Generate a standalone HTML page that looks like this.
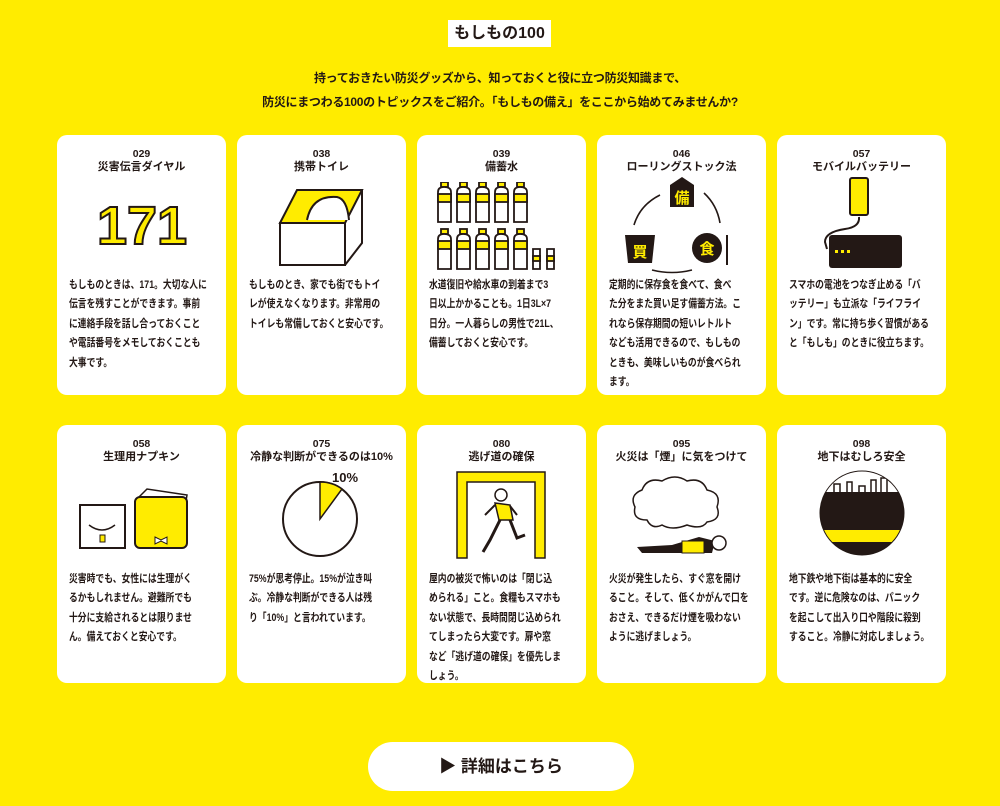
<!DOCTYPE html>
<html><head><meta charset="utf-8"><style>
*{margin:0;padding:0;box-sizing:border-box}
body{width:1000px;height:806px;background:#ffec00;font-family:"Liberation Sans","Noto Sans CJK JP",sans-serif;color:#231815;position:relative;overflow:hidden;font-weight:bold}
.title{position:absolute;left:448px;top:20px;width:103px;height:27px;background:#fff;font-size:16px;line-height:27px;text-align:center}
.lead{position:absolute;left:0;top:66px;width:1000px;text-align:center;font-size:12px;line-height:24px;letter-spacing:-0.3px}
.card{position:absolute;width:169px;background:#fff;border-radius:10px}
.num{position:absolute;top:13px;width:100%;text-align:center;font-size:10.5px;line-height:12px}
.ttl{position:absolute;top:25px;width:100%;text-align:center;font-size:11px;line-height:14px}
.body{position:absolute;left:12px;font-size:11px;line-height:19.4px;white-space:nowrap;transform:scaleX(0.8);transform-origin:0 0}
svg{position:absolute}
.btn{position:absolute;left:368px;top:742px;width:266px;height:49px;background:#fff;border-radius:25px;font-size:17px;line-height:49px;text-align:center}
</style></head><body>
<div class="title">もしもの100</div>
<div class="lead">持っておきたい防災グッズから、知っておくと役に立つ防災知識まで、<br>防災にまつわる100のトピックスをご紹介。「もしもの備え」をここから始めてみませんか?</div>

<div class="card" style="left:57px;top:135px;height:260px">
<div class="num">029</div><div class="ttl">災害伝言ダイヤル</div>
<svg style="left:40px;top:65px" width="90" height="50"><text x="45" y="44" text-anchor="middle" font-family="Liberation Sans" font-size="54" font-weight="bold" fill="#ffec00" stroke="#231815" stroke-width="2">171</text></svg>
<div class="body" style="top:141px">もしものときは、171。大切な人に<br>伝言を残すことができます。事前<br>に連絡手段を話し合っておくこと<br>や電話番号をメモしておくことも<br>大事です。</div></div>

<div class="card" style="left:237px;top:135px;height:260px">
<div class="num">038</div><div class="ttl">携帯トイレ</div>
<svg style="left:40px;top:50px" width="90" height="82"><path d="M3 38 L20 5 L85 5 L68 38Z" fill="#ffec00" stroke="#231815" stroke-width="2"/><path d="M30 35 Q35 10 60 12 Q70 14 72 35" fill="#fff" stroke="#231815" stroke-width="2"/><path d="M3 38 L68 38 L68 80 L3 80Z M68 80 L85 58 L85 5" fill="#fff" stroke="#231815" stroke-width="2"/></svg>
<div class="body" style="top:141px">もしものとき、家でも街でもトイ<br>レが使えなくなります。非常用の<br>トイレも常備しておくと安心です。</div></div>

<div class="card" style="left:417px;top:135px;height:260px">
<div class="num">039</div><div class="ttl">備蓄水</div>
<svg style="left:20px;top:47px" width="130" height="90">
<g stroke="#231815" stroke-width="1.8">
<g id="b"><rect x="4" y="0" width="7" height="5" fill="#ffec00"/><path d="M1 10 Q1 5 7 5 Q14 5 14 10 L14 40 L1 40Z" fill="#fff"/><rect x="1" y="12" width="13" height="8" fill="#ffec00"/></g>
<use href="#b" x="19"/><use href="#b" x="38"/><use href="#b" x="57"/><use href="#b" x="76"/>
<use href="#b" y="47"/><use href="#b" x="19" y="47"/><use href="#b" x="38" y="47"/><use href="#b" x="57" y="47"/><use href="#b" x="76" y="47"/>
<path d="M96 67 h7 v20 h-7z M110 67 h7 v20 h-7z" fill="#fff"/><rect x="96" y="74" width="7" height="5" fill="#ffec00"/><rect x="110" y="74" width="7" height="5" fill="#ffec00"/></g></svg>
<div class="body" style="top:141px">水道復旧や給水車の到着まで3<br>日以上かかることも。1日3L×7<br>日分。一人暮らしの男性で21L、<br>備蓄しておくと安心です。</div></div>

<div class="card" style="left:597px;top:135px;height:260px">
<div class="num">046</div><div class="ttl">ローリングストック法</div>
<svg style="left:25px;top:40px" width="125" height="105"><g fill="#231815"><path d="M48 10 L60 2 L72 10 L72 32 L48 32Z"/><path d="M3 60 L33 60 L30 88 L6 88Z"/><circle cx="85" cy="73" r="15"/><rect x="104" y="60" width="2" height="30"/></g>
<g fill="#ffec00" font-size="15" text-anchor="middle"><text x="60" y="28">備</text><text x="18" y="82">買</text><text x="85" y="79">食</text></g>
<g fill="none" stroke="#231815" stroke-width="1.6"><path d="M12 50 Q18 30 38 20"/><path d="M82 18 Q95 30 98 48"/><path d="M70 95 Q50 100 30 95"/></g></svg>
<div class="body" style="top:141px">定期的に保存食を食べて、食べ<br>た分をまた買い足す備蓄方法。こ<br>れなら保存期間の短いレトルト<br>なども活用できるので、もしもの<br>ときも、美味しいものが食べられ<br>ます。</div></div>

<div class="card" style="left:777px;top:135px;height:260px">
<div class="num">057</div><div class="ttl">モバイルバッテリー</div>
<svg style="left:38px;top:42px" width="100" height="95"><rect x="35" y="1" width="18" height="37" rx="2" fill="#ffec00" stroke="#231815" stroke-width="2"/><path d="M44 40 Q45 50 30 52 Q10 55 10 65 L12 72" fill="none" stroke="#231815" stroke-width="2"/><rect x="14" y="58" width="73" height="33" rx="3" fill="#231815"/><g fill="#ffec00"><rect x="20" y="73" width="3" height="3"/><rect x="26" y="73" width="3" height="3"/><rect x="32" y="73" width="3" height="3"/></g></svg>
<div class="body" style="top:141px">スマホの電池をつなぎ止める「バ<br>ッテリー」も立派な「ライフライ<br>ン」です。常に持ち歩く習慣がある<br>と「もしも」のときに役立ちます。</div></div>

<div class="card" style="left:57px;top:425px;height:258px">
<div class="num">058</div><div class="ttl">生理用ナプキン</div>
<svg style="left:20px;top:62px" width="130" height="65"><rect x="3" y="18" width="45" height="43" fill="#fff" stroke="#231815" stroke-width="2"/><path d="M12 38 Q25 48 38 38" fill="none" stroke="#231815" stroke-width="1.5"/><rect x="23" y="48" width="5" height="7" fill="#ffec00" stroke="#231815"/><path d="M62 10 L70 2 L110 8 L108 20Z" fill="#fff" stroke="#231815" stroke-width="1.5"/><rect x="58" y="10" width="52" height="51" rx="5" fill="#ffec00" stroke="#231815" stroke-width="2"/><path d="M78 50 l6 3 l6-3 v7 l-6-3 l-6 3z" fill="#fff" stroke="#231815"/></svg>
<div class="body" style="top:145px">災害時でも、女性には生理がく<br>るかもしれません。避難所でも<br>十分に支給されるとは限りませ<br>ん。備えておくと安心です。</div></div>

<div class="card" style="left:237px;top:425px;height:258px">
<div class="num">075</div><div class="ttl">冷静な判断ができるのは10%</div>
<svg style="left:40px;top:42px" width="100" height="95"><circle cx="43" cy="52" r="37" fill="#fff" stroke="#231815" stroke-width="2"/><path d="M43 52 L43 15 A37 37 0 0 1 65 22Z" fill="#ffec00" stroke="#231815" stroke-width="1.5"/><text x="55" y="15" font-size="13" font-weight="bold" fill="#231815">10%</text></svg>
<div class="body" style="top:145px">75%が思考停止。15%が泣き叫<br>ぶ。冷静な判断ができる人は残<br>り「10%」と言われています。</div></div>

<div class="card" style="left:417px;top:425px;height:258px">
<div class="num">080</div><div class="ttl">逃げ道の確保</div>
<svg style="left:38px;top:45px" width="95" height="90"><path d="M2 2 H90 V88 H80 V12 H12 V88 H2Z" fill="#ffec00" stroke="#231815" stroke-width="1.5"/><circle cx="46" cy="25" r="6" fill="#fff" stroke="#231815" stroke-width="1.5"/><path d="M40 33 L55 35 L58 50 L44 50Z" fill="#ffec00" stroke="#231815" stroke-width="1.5"/><path d="M45 50 L35 70 L28 82 M55 50 L62 68 L70 65" fill="none" stroke="#231815" stroke-width="3"/><path d="M40 35 L30 45 M55 36 L62 45" stroke="#231815" stroke-width="2"/></svg>
<div class="body" style="top:145px">屋内の被災で怖いのは「閉じ込<br>められる」こと。食糧もスマホも<br>ない状態で、長時間閉じ込められ<br>てしまったら大変です。扉や窓<br>など「逃げ道の確保」を優先しま<br>しょう。</div></div>

<div class="card" style="left:597px;top:425px;height:258px">
<div class="num">095</div><div class="ttl">火災は「煙」に気をつけて</div>
<svg style="left:30px;top:50px" width="110" height="85"><path d="M20 45 Q5 45 8 32 Q2 20 15 15 Q20 2 35 6 Q48 -2 60 6 Q75 2 80 15 Q95 18 90 32 Q95 45 80 47 Q75 55 60 50 Q45 56 35 50 Q25 55 20 45Z" fill="#fff" stroke="#231815" stroke-width="1.5"/><path d="M10 72 L45 70 L72 62 L88 66 L85 78 L50 78 L15 78Z" fill="#231815"/><rect x="55" y="66" width="22" height="12" fill="#ffec00" stroke="#231815"/><circle cx="92" cy="68" r="7" fill="#fff" stroke="#231815" stroke-width="1.5"/></svg>
<div class="body" style="top:145px">火災が発生したら、すぐ窓を開け<br>ること。そして、低くかがんで口を<br>おさえ、できるだけ煙を吸わない<br>ように逃げましょう。</div></div>

<div class="card" style="left:777px;top:425px;height:258px">
<div class="num">098</div><div class="ttl">地下はむしろ安全</div>
<svg style="left:42px;top:45px" width="86" height="86"><defs><clipPath id="c"><circle cx="43" cy="43" r="42"/></clipPath></defs><g clip-path="url(#c)"><rect width="86" height="86" fill="#fff"/><rect y="22" width="86" height="64" fill="#231815"/><rect y="60" width="86" height="12" fill="#ffec00"/><path d="M15 22 v-8 h6 v8 M28 22 v-10 h5 v10 M40 22 v-6 h6 v6 M52 22 v-12 h5 v12 M62 22 v-14 h6 v14" fill="#fff" stroke="#231815" stroke-width="1.5"/></g><circle cx="43" cy="43" r="42" fill="none" stroke="#231815" stroke-width="1"/></svg>
<div class="body" style="top:145px">地下鉄や地下街は基本的に安全<br>です。逆に危険なのは、パニック<br>を起こして出入り口や階段に殺到<br>すること。冷静に対応しましょう。</div></div>

<div class="btn">▶ 詳細はこちら</div>
</body></html>
